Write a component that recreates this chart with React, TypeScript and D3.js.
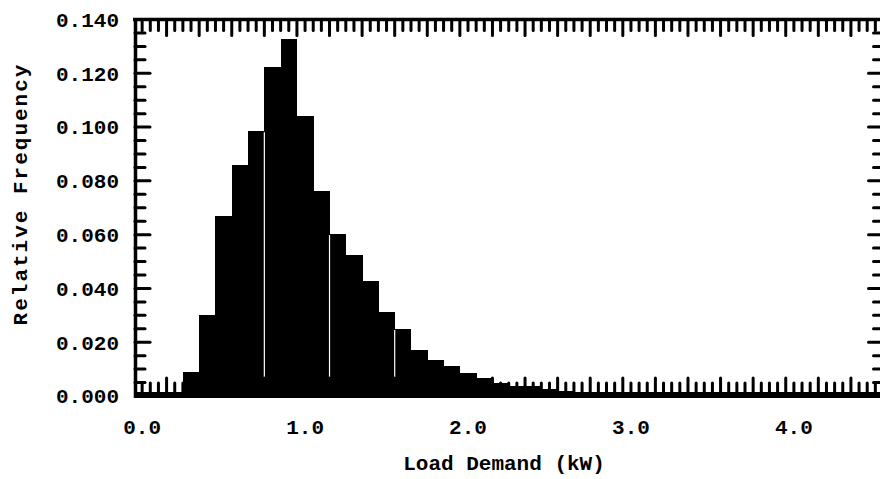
import React from "react";
import * as d3 from "d3";

// Bin centres (kW), bin width 0.1
const binCenters = [0.3, 0.4, 0.5, 0.6, 0.7, 0.8, 0.9, 1.0, 1.1, 1.2, 1.3, 1.4, 1.5, 1.6, 1.7, 1.8, 1.9, 2.0, 2.1, 2.2, 2.3, 2.4, 2.5, 2.6, 2.7, 2.8, 2.9, 3.0, 3.1, 3.2];
const frequencies = [0.0088, 0.0302, 0.067, 0.0859, 0.0984, 0.1225, 0.1326, 0.1043, 0.0762, 0.0602, 0.0524, 0.0426, 0.0311, 0.0249, 0.0171, 0.0134, 0.0113, 0.0085, 0.0067, 0.0048, 0.0038, 0.0036, 0.0026, 0.002, 0.0015, 0.0012, 0.001, 0.0008, 0.0006, 0.0005];
const binWidth = 0.1;
// scan gaps visible between some bars in the original figure
const gapEdges = [0.75, 1.15, 1.55];
const xTickLabels = [0, 1, 2, 3, 4];
const yTickLabels = [0, 0.02, 0.04, 0.06, 0.08, 0.1, 0.12, 0.14];
const xLabel = "Load Demand (kW)";
const yLabel = "Relative Frequency";

const W = 880;
const H = 479;
const FONT = "'Courier New', 'Liberation Mono', monospace";

export default function App() {
  const x = d3.scaleLinear().domain([-0.05, 4.55]).range([134, 883.5]);
  const y = d3.scaleLinear().domain([0, 0.14]).range([396, 19.5]);
  const [x0, x1] = x.range();
  const yTop = y(0.14);
  const yBot = y(0);

  const xTicks = d3.range(0, 93).map((i) => ({ v: -0.05 + i * 0.05, major: i % 4 === 0 }));
  const yTicks = d3.range(0, 29).map((i) => ({ v: i * 0.005, major: i % 4 === 0 }));

  const freqAt = (edge: number, side: number) => {
    const idx = binCenters.findIndex((c) => Math.abs(c - (edge + side * binWidth / 2)) < 1e-6);
    return idx >= 0 ? frequencies[idx] : 0;
  };

  return (
    <svg width={W} height={H} style={{ display: "block", position: "absolute", left: 0, top: 0, background: "#fff" }}>
      <rect x={0} y={0} width={W} height={H} fill="#fff" />
      {/* bars */}
      <g shapeRendering="crispEdges">
        {binCenters.map((c, i) => (
          <rect
            key={i}
            x={x(c - binWidth / 2)}
            y={y(frequencies[i])}
            width={x(c + binWidth / 2) - x(c - binWidth / 2) + 0.5}
            height={yBot - y(frequencies[i])}
            fill="#000"
          />
        ))}
      </g>
      {gapEdges.map((e) => {
        const top = Math.max(y(freqAt(e, -1)), y(freqAt(e, 1)));
        return <line key={e} x1={x(e)} x2={x(e)} y1={top + 1} y2={378} stroke="#fff" strokeWidth={1.2} />;
      })}
      {/* frame */}
      <g stroke="#000" fill="none">
        <line x1={x0 - 1} x2={x1} y1={yTop} y2={yTop} strokeWidth={3.5} />
        <line x1={x0 + 1.5} x2={x0 + 1.5} y1={yTop - 1.5} y2={yBot + 2} strokeWidth={3.5} />
        <line x1={x0} x2={x1} y1={yBot - 1} y2={yBot - 1} strokeWidth={6} />
        <line x1={x1} x2={x1} y1={yTop} y2={yBot} strokeWidth={3.5} />
      </g>
      {/* ticks */}
      <g stroke="#000" strokeWidth={3} strokeLinecap="round">
        {xTicks.map((t, i) => {
          const px = x(t.v);
          if (px < x0 + 3 || px > x1 - 1) return null;
          const len = t.major ? 16 : 11;
          return (
            <g key={i}>
              <line x1={px} x2={px} y1={yTop} y2={yTop + len} />
              <line x1={px} x2={px} y1={yBot} y2={yBot - len - 2} />
            </g>
          );
        })}
        {yTicks.map((t, i) => {
          const py = y(t.v);
          if (py < yTop + 3 || py > yBot - 3) return null;
          const lenL = t.major ? 16 : 11;
          const lenR = t.major ? 15 : 10;
          return (
            <g key={i}>
              <line x1={x0 + 1} x2={x0 + lenL} y1={py} y2={py} />
              <line x1={x1} x2={x1 - lenR} y1={py} y2={py} />
            </g>
          );
        })}
      </g>
      {/* labels */}
      <g fontFamily={FONT} fontWeight="bold" fontSize={21} fill="#000">
        {xTickLabels.map((v) => (
          <text key={v} x={x(v)} y={434} textAnchor="middle">
            {d3.format(".1f")(v)}
          </text>
        ))}
        {yTickLabels.map((v) => (
          <text key={v} x={119} y={y(v)} dy="0.35em" textAnchor="end">
            {d3.format(".3f")(v)}
          </text>
        ))}
        <text x={504} y={470} textAnchor="middle">
          {xLabel}
        </text>
        <text transform={`translate(27,${194}) rotate(-90)`} textAnchor="middle" letterSpacing={2}>
          {yLabel}
        </text>
      </g>
    </svg>
  );
}
